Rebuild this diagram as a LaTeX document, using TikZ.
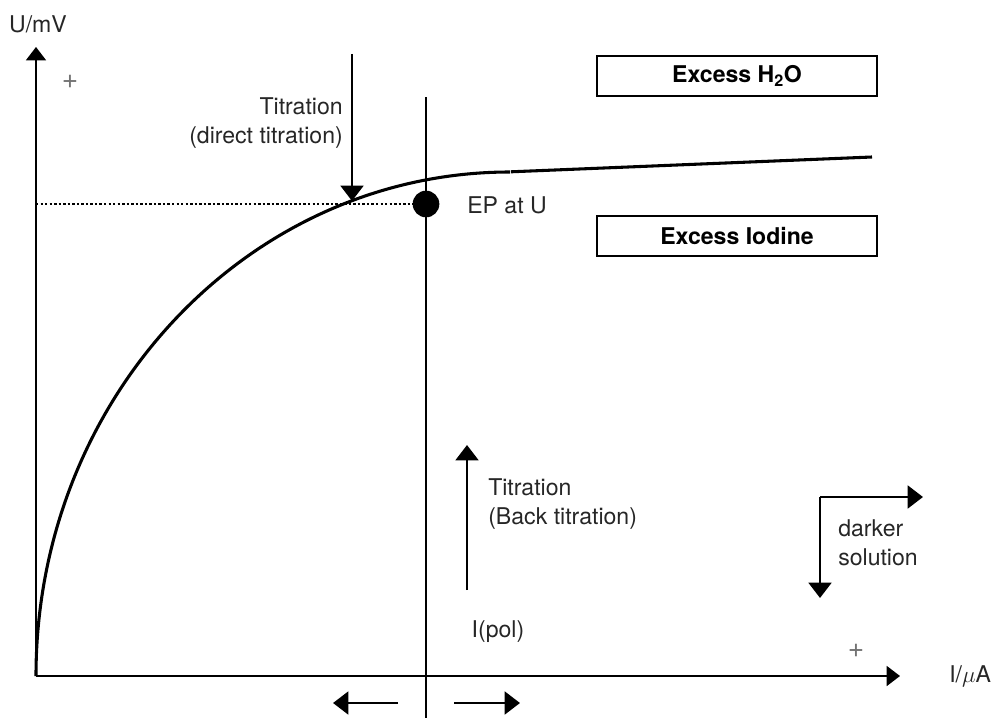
\documentclass[tikz,border=0pt]{standalone}
\usepackage{fontspec}
\setmainfont{TeX Gyre Heros}
\usetikzlibrary{arrows.meta}
\begin{document}
\begin{tikzpicture}[x=0.75pt,y=-0.75pt,
  lbl/.style={font=\fontsize{17.3}{21.75}\selectfont, text=black!85, inner sep=0pt},
  pluslbl/.style={font=\fontsize{21}{24}\selectfont, text=black!55, inner sep=0pt},
  boxlbl/.style={draw, line width=1.5pt, font=\fontsize{17.3}{20}\selectfont\bfseries, minimum width=210pt, minimum height=30.5pt, inner sep=0pt},
  axisline/.style={line width=1.2pt, -{Triangle[width=15pt,length=10pt]}},
  bigarrow/.style={line width=2.2pt, -{Triangle[width=17pt,length=11.5pt]}},
  curveline/.style={line width=2.3pt},
  vline/.style={line width=2.1pt},
  dotline/.style={line width=2pt, dash pattern=on 1.8pt off 1.6pt}
]
\useasboundingbox (0,0) rectangle (991,724);

% axes
\coordinate (O) at (36,676);
\coordinate (ytip) at (36,47);
\coordinate (xtip) at (900,676);
\draw[axisline] (O) -- (ytip);
\draw[axisline] (O) -- (xtip);
\node[lbl] (ylab) at (38,24) {U/mV};
\node[lbl, anchor=west] (xlab) at (949,676) {I/$\mu$A};
\node[pluslbl] (plusy) at (70,82) {+};
\node[pluslbl] (plusx) at (856,651) {+};

% curve
\coordinate (cbreak) at (511,171.8);
\coordinate (cend) at (872,157);
\draw[curveline] (O) arc[start angle=180, end angle=270, x radius=474, y radius=504];
\draw[curveline] (cbreak) -- (cend);

% vertical line and EP dot
\coordinate (vtop) at (426,97);
\coordinate (vbot) at (426,718);
\draw[vline] (vtop) -- (vbot);
\node[circle, fill=black, minimum size=20pt, inner sep=0pt] (ep) at (426,204) {};
\coordinate (dstart) at (36,204);
\draw[dotline] (dstart) -- (ep);
\node[lbl, anchor=west] (eplab) at (467,205) {EP at U};

% direct titration arrow
\coordinate (dtop) at (352,54);
\coordinate (dtip) at (352,201);
\draw[bigarrow] (dtop) -- (dtip);
\node[lbl, anchor=east, align=right] (dirlab) at (343,123) {Titration\\(direct titration)};

% boxes
\node[boxlbl] (h2o) at (737,76) {Excess H\textsubscript{2}O};
\node[boxlbl] (iod) at (737,236) {Excess Iodine};

% back titration arrow
\coordinate (btbot) at (467,590);
\coordinate (bttip) at (467,445);
\draw[bigarrow] (btbot) -- (bttip);
\node[lbl, anchor=west, align=left] (backlab) at (488,504) {Titration\\(Back titration)};

\node[lbl] (ipol) at (498,632) {I(pol)};

% bottom arrows
\coordinate (lstart) at (398,703);
\coordinate (ltip) at (333,703);
\coordinate (rstart) at (454,703);
\coordinate (rtip) at (520,703);
\draw[bigarrow] (lstart) -- (ltip);
\draw[bigarrow] (rstart) -- (rtip);

% darker solution
\coordinate (corner) at (820,497);
\coordinate (dsr) at (923,497);
\coordinate (dsd) at (820,598);
\draw[bigarrow] (corner) -- (dsr);
\draw[bigarrow] (corner) -- (dsd);
\node[lbl, anchor=west, align=left] (darklab) at (838,543) {darker\\solution};
\end{tikzpicture}
\end{document}
